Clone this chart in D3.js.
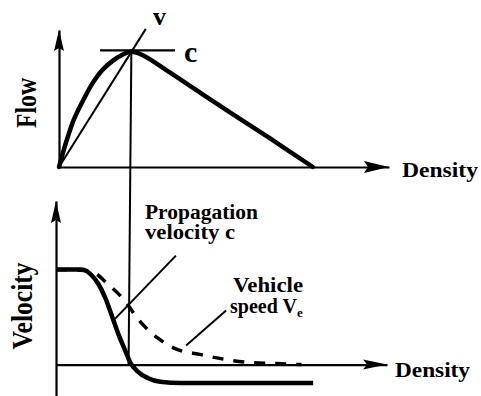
<!DOCTYPE html>
<html><head><meta charset="utf-8">
<script src="https://cdn.jsdelivr.net/npm/d3@7"></script>
<style>
body{margin:0;background:#fff}
text{font-family:"Liberation Serif","Times New Roman",serif;fill:#000;font-weight:bold}
</style>
</head><body><svg id="chart" width="481" height="396"></svg>
<script>
// Fundamental diagram: flow vs density (top), velocities vs density (bottom)
const flowDensity = [0, 3, 6, 10, 13, 17, 21, 25, 28.5, 33, 43, 56, 69, 83, 100];
const flowValues  = [0, 23, 42, 60, 72, 84, 92, 97.5, 100, 97, 83, 64, 45, 25, 0];

// propagation velocity c = dq/dk (solid)
const waveDensity = [0, 10, 12, 13.6, 16.6, 19.4, 22.1, 24.5, 27.3, 29.2, 32, 36, 41, 49, 101];
const waveSpeed   = [100, 100, 98.5, 95, 85, 70, 50, 32, 14, 2, -7, -14, -18, -19.3, -19.3];

// vehicle speed Ve = q/k (dashed)
const speedDensity = [0, 11, 15.4, 20.2, 26.1, 32.8, 39.9, 46.6, 56.9, 66.8, 76.7, 86.6, 96.4];
const vehicleSpeed = [100, 99, 96, 85, 70, 46, 28, 17, 10.5, 5.3, 2.1, 1.1, 0];

const criticalDensity = 28.5;
const capacity = 100;

const svg = d3.select("#chart");

// scales
const xTop = d3.scaleLinear().domain([0, 130]).range([59, 389]);
const yTop = d3.scaleLinear().domain([0, 119]).range([167, 30]);
const xBot = d3.scaleLinear().domain([0, 130]).range([56, 387]);
const yBot = d3.scaleLinear().domain([-33, 172]).range([396, 201]);

// axes: bare domain lines, no ticks
function drawAxis(axis, tx, ty) {
  const g = svg.append("g").attr("transform", `translate(${tx},${ty})`).call(axis);
  g.select(".domain").attr("stroke", "#000").attr("stroke-width", 2.2);
  g.selectAll(".tick").remove();
}
drawAxis(d3.axisBottom(xTop).tickValues([]).tickSizeOuter(0), 0, yTop(0));
drawAxis(d3.axisLeft(yTop).tickValues([]).tickSizeOuter(0), xTop(0), 0);
drawAxis(d3.axisBottom(xBot).tickValues([]).tickSizeOuter(0), 0, yBot(0));
drawAxis(d3.axisLeft(yBot).tickValues([]).tickSizeOuter(0), xBot(0), 0);

// arrowheads at the axis ends
function arrowRight(x, y, len, hw) {
  svg.append("path").attr("d", `M${x},${y}L${x - len},${y - hw}L${x - len + 4},${y}L${x - len},${y + hw}Z`).attr("fill", "#000");
}
function arrowUp(x, y, len, hw) {
  svg.append("path").attr("d", `M${x},${y}L${x - hw},${y + len}L${x},${y + len - 3}L${x + hw},${y + len}Z`).attr("fill", "#000");
}
arrowRight(xTop.range()[1], yTop(0), 25, 6);
arrowUp(xTop(0), yTop.range()[1], 21, 5);
arrowRight(xBot.range()[1], yBot(0), 24, 5);
arrowUp(xBot(0), yBot.range()[1], 22, 5);

// flow-density curve
const flowPts = flowDensity.map((d, i) => [d, flowValues[i]]);
svg.append("path")
  .datum(flowPts)
  .attr("fill", "none").attr("stroke", "#000").attr("stroke-width", 4.5)
  .attr("stroke-linejoin", "round").attr("stroke-linecap", "round")
  .attr("d", d3.line().x(d => xTop(d[0])).y(d => yTop(d[1])).curve(d3.curveCatmullRom.alpha(0.5)));

// chord from origin through capacity point (slope v)
svg.append("line")
  .attr("x1", xTop(0)).attr("y1", yTop(0))
  .attr("x2", xTop(criticalDensity * 1.2)).attr("y2", yTop(capacity * 1.2))
  .attr("stroke", "#000").attr("stroke-width", 2);

// tangent at capacity (slope c = 0)
svg.append("line")
  .attr("x1", xTop(16.2)).attr("y1", yTop(capacity) - 1.5)
  .attr("x2", xTop(45.7)).attr("y2", yTop(capacity) - 1.5)
  .attr("stroke", "#000").attr("stroke-width", 2.2);

// critical density drop line linking both panels
svg.append("line")
  .attr("x1", xTop(criticalDensity)).attr("y1", yTop(capacity))
  .attr("x2", xBot(criticalDensity)).attr("y2", yBot(0))
  .attr("stroke", "#000").attr("stroke-width", 2);

// vehicle speed (dashed)
const speedPts = speedDensity.map((d, i) => [d, vehicleSpeed[i]]);
svg.append("path")
  .datum(speedPts)
  .attr("fill", "none").attr("stroke", "#000").attr("stroke-width", 3.5)
  .attr("stroke-dasharray", "11,10")
  .attr("d", d3.line().x(d => xBot(d[0])).y(d => yBot(d[1])).curve(d3.curveMonotoneX));

// propagation velocity (solid)
const wavePts = waveDensity.map((d, i) => [d, waveSpeed[i]]);
svg.append("path")
  .datum(wavePts)
  .attr("fill", "none").attr("stroke", "#000").attr("stroke-width", 4.5)
  .attr("stroke-linejoin", "round")
  .attr("d", d3.line().x(d => xBot(d[0])).y(d => yBot(d[1])).curve(d3.curveMonotoneX));

// leader lines for the annotations
const leaders = [
  [[22.4, 46], [47.1, 114.6]],
  [[51.1, 20], [66.8, 56.8]]
];
leaders.forEach(([a, b]) => {
  svg.append("line")
    .attr("x1", xBot(a[0])).attr("y1", yBot(a[1]))
    .attr("x2", xBot(b[0])).attr("y2", yBot(b[1]))
    .attr("stroke", "#000").attr("stroke-width", 2);
});

// labels
function label(txt, x, y, size, len) {
  const t = svg.append("text").attr("x", x).attr("y", y).attr("font-size", size).text(txt);
  if (len) t.attr("textLength", len).attr("lengthAdjust", "spacingAndGlyphs");
  return t;
}
label("Density", 402, 177, 21, 76);
label("Density", 395, 377, 21, 75);
label("Propagation", 145, 219, 20, 113);
label("velocity c", 145, 239, 20, 90);
label("Vehicle", 233, 292, 20, 70);
const sp = svg.append("text").attr("x", 230).attr("y", 313).attr("font-size", 20);
sp.append("tspan").text("speed V");
sp.append("tspan").attr("font-size", 13).attr("dy", 4).text("e");
label("v", 153, 25, 26);
label("c", 184, 62, 30);

function vlabel(txt, x, y, size, len) {
  svg.append("text")
    .attr("transform", `translate(${x},${y}) rotate(-90) scale(1,1.2)`)
    .attr("text-anchor", "middle").attr("font-size", size)
    .attr("textLength", len).attr("lengthAdjust", "spacingAndGlyphs")
    .text(txt);
}
vlabel("Flow", 36, 103, 24, 50);
vlabel("Velocity", 32, 306, 24, 87);
</script>
</body></html>
